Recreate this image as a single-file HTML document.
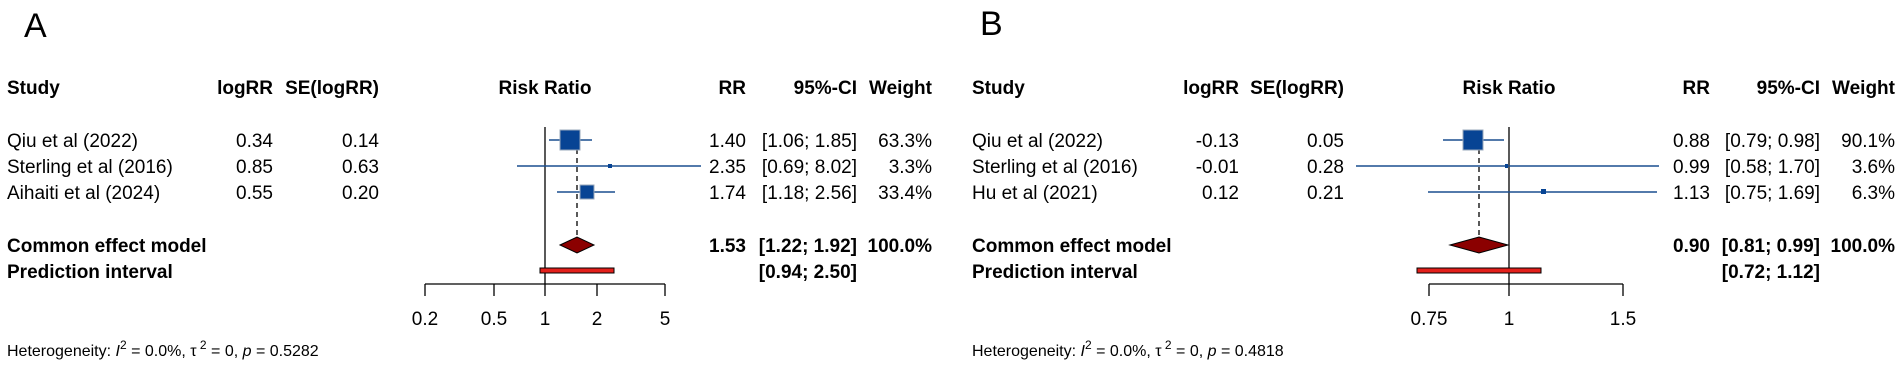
<!DOCTYPE html>
<html><head><meta charset="utf-8"><style>
html,body{margin:0;padding:0;background:#fff;}
svg{display:block;}
text{font-family:"Liberation Sans",Arial,sans-serif;font-size:19px;fill:#000;}
.b{font-weight:bold;}
.h{font-size:16px;}
</style></head><body>
<svg width="1902" height="367" viewBox="0 0 1902 367" xmlns="http://www.w3.org/2000/svg">
<rect width="1902" height="367" fill="#fff"/>
<!-- Panel A -->
<g>
<text x="24" y="37" style="font-size:34px">A</text>
<text x="7" y="94" class="b">Study</text>
<text x="273" y="94" class="b" text-anchor="end">logRR</text>
<text x="379" y="94" class="b" text-anchor="end">SE(logRR)</text>
<text x="545" y="94" class="b" text-anchor="middle">Risk Ratio</text>
<text x="746" y="94" class="b" text-anchor="end">RR</text>
<text x="857" y="94" class="b" text-anchor="end">95%-CI</text>
<text x="932" y="94" class="b" text-anchor="end">Weight</text>

<text x="7" y="147">Qiu et al (2022)</text>
<text x="7" y="173">Sterling et al (2016)</text>
<text x="7" y="199">Aihaiti et al (2024)</text>
<text x="273" y="147" text-anchor="end">0.34</text>
<text x="273" y="173" text-anchor="end">0.85</text>
<text x="273" y="199" text-anchor="end">0.55</text>
<text x="379" y="147" text-anchor="end">0.14</text>
<text x="379" y="173" text-anchor="end">0.63</text>
<text x="379" y="199" text-anchor="end">0.20</text>
<text x="746" y="147" text-anchor="end">1.40</text>
<text x="746" y="173" text-anchor="end">2.35</text>
<text x="746" y="199" text-anchor="end">1.74</text>
<text x="857" y="147" text-anchor="end">[1.06; 1.85]</text>
<text x="857" y="173" text-anchor="end">[0.69; 8.02]</text>
<text x="857" y="199" text-anchor="end">[1.18; 2.56]</text>
<text x="932" y="147" text-anchor="end">63.3%</text>
<text x="932" y="173" text-anchor="end">3.3%</text>
<text x="932" y="199" text-anchor="end">33.4%</text>

<text x="7" y="252" class="b">Common effect model</text>
<text x="7" y="278" class="b">Prediction interval</text>
<text x="746" y="252" class="b" text-anchor="end">1.53</text>
<text x="857" y="252" class="b" text-anchor="end">[1.22; 1.92]</text>
<text x="932" y="252" class="b" text-anchor="end">100.0%</text>
<text x="857" y="278" class="b" text-anchor="end">[0.94; 2.50]</text>

<line x1="545" y1="127" x2="545" y2="296" stroke="#000" stroke-width="1.3"/>
<line x1="577" y1="149" x2="577" y2="237" stroke="#000" stroke-width="1.3" stroke-dasharray="5,4"/>
<line x1="549" y1="140" x2="592" y2="140" stroke="#1a4f8f" stroke-width="1.5"/>
<rect x="560" y="130" width="20" height="20" fill="#074494" stroke="#9aa8bb" stroke-width="1"/>
<line x1="517" y1="166" x2="701" y2="166" stroke="#1a4f8f" stroke-width="1.5"/>
<rect x="608" y="164" width="4" height="4" fill="#074494"/>
<line x1="557" y1="192" x2="615" y2="192" stroke="#1a4f8f" stroke-width="1.5"/>
<rect x="580" y="185" width="14" height="14" fill="#074494" stroke="#9aa8bb" stroke-width="1"/>
<polygon points="560,245 577,237 594,245 577,253" fill="#8b0000" stroke="#000" stroke-width="1"/>
<rect x="540" y="268" width="74" height="5" fill="#e3201b" stroke="#000" stroke-width="1"/>

<line x1="425" y1="284" x2="665" y2="284" stroke="#000" stroke-width="1.3"/>
<g stroke="#000" stroke-width="1.3">
<line x1="425" y1="284" x2="425" y2="296"/><line x1="494" y1="284" x2="494" y2="296"/>
<line x1="597" y1="284" x2="597" y2="296"/><line x1="665" y1="284" x2="665" y2="296"/>
</g>
<text x="425" y="325" text-anchor="middle">0.2</text>
<text x="494" y="325" text-anchor="middle">0.5</text>
<text x="545" y="325" text-anchor="middle">1</text>
<text x="597" y="325" text-anchor="middle">2</text>
<text x="665" y="325" text-anchor="middle">5</text>

<text x="7" y="356" class="h">Heterogeneity: <tspan font-style="italic">I</tspan><tspan dy="-7" style="font-size:12px">2</tspan><tspan dy="7"> = 0.0%, τ</tspan><tspan dy="-7" style="font-size:12px"> 2</tspan><tspan dy="7"> = 0, </tspan><tspan font-style="italic">p</tspan> = 0.5282</text>
</g>

<!-- Panel B -->
<g>
<text x="980" y="35" style="font-size:34px">B</text>
<text x="972" y="94" class="b">Study</text>
<text x="1239" y="94" class="b" text-anchor="end">logRR</text>
<text x="1344" y="94" class="b" text-anchor="end">SE(logRR)</text>
<text x="1509" y="94" class="b" text-anchor="middle">Risk Ratio</text>
<text x="1710" y="94" class="b" text-anchor="end">RR</text>
<text x="1820" y="94" class="b" text-anchor="end">95%-CI</text>
<text x="1895" y="94" class="b" text-anchor="end">Weight</text>

<text x="972" y="147">Qiu et al (2022)</text>
<text x="972" y="173">Sterling et al (2016)</text>
<text x="972" y="199">Hu et al (2021)</text>
<text x="1239" y="147" text-anchor="end">-0.13</text>
<text x="1239" y="173" text-anchor="end">-0.01</text>
<text x="1239" y="199" text-anchor="end">0.12</text>
<text x="1344" y="147" text-anchor="end">0.05</text>
<text x="1344" y="173" text-anchor="end">0.28</text>
<text x="1344" y="199" text-anchor="end">0.21</text>
<text x="1710" y="147" text-anchor="end">0.88</text>
<text x="1710" y="173" text-anchor="end">0.99</text>
<text x="1710" y="199" text-anchor="end">1.13</text>
<text x="1820" y="147" text-anchor="end">[0.79; 0.98]</text>
<text x="1820" y="173" text-anchor="end">[0.58; 1.70]</text>
<text x="1820" y="199" text-anchor="end">[0.75; 1.69]</text>
<text x="1895" y="147" text-anchor="end">90.1%</text>
<text x="1895" y="173" text-anchor="end">3.6%</text>
<text x="1895" y="199" text-anchor="end">6.3%</text>

<text x="972" y="252" class="b">Common effect model</text>
<text x="972" y="278" class="b">Prediction interval</text>
<text x="1710" y="252" class="b" text-anchor="end">0.90</text>
<text x="1820" y="252" class="b" text-anchor="end">[0.81; 0.99]</text>
<text x="1895" y="252" class="b" text-anchor="end">100.0%</text>
<text x="1820" y="278" class="b" text-anchor="end">[0.72; 1.12]</text>

<line x1="1509" y1="127" x2="1509" y2="296" stroke="#000" stroke-width="1.3"/>
<line x1="1479" y1="149" x2="1479" y2="237" stroke="#000" stroke-width="1.3" stroke-dasharray="5,4"/>
<line x1="1443" y1="140" x2="1504" y2="140" stroke="#1a4f8f" stroke-width="1.5"/>
<rect x="1463" y="130" width="20" height="20" fill="#074494" stroke="#9aa8bb" stroke-width="1"/>
<line x1="1356" y1="166" x2="1659" y2="166" stroke="#1a4f8f" stroke-width="1.5"/>
<rect x="1505" y="164" width="3" height="4" fill="#074494"/>
<line x1="1428" y1="192" x2="1657" y2="192" stroke="#1a4f8f" stroke-width="1.5"/>
<rect x="1541" y="189" width="5" height="5" fill="#074494"/>
<polygon points="1450,245 1479,237 1508,245 1479,253" fill="#8b0000" stroke="#000" stroke-width="1"/>
<rect x="1417" y="268" width="124" height="5" fill="#e3201b" stroke="#000" stroke-width="1"/>

<line x1="1429" y1="284" x2="1623" y2="284" stroke="#000" stroke-width="1.3"/>
<g stroke="#000" stroke-width="1.3">
<line x1="1429" y1="284" x2="1429" y2="296"/><line x1="1623" y1="284" x2="1623" y2="296"/>
</g>
<text x="1429" y="325" text-anchor="middle">0.75</text>
<text x="1509" y="325" text-anchor="middle">1</text>
<text x="1623" y="325" text-anchor="middle">1.5</text>

<text x="972" y="356" class="h">Heterogeneity: <tspan font-style="italic">I</tspan><tspan dy="-7" style="font-size:12px">2</tspan><tspan dy="7"> = 0.0%, τ</tspan><tspan dy="-7" style="font-size:12px"> 2</tspan><tspan dy="7"> = 0, </tspan><tspan font-style="italic">p</tspan> = 0.4818</text>
</g>
</svg>
</body></html>
